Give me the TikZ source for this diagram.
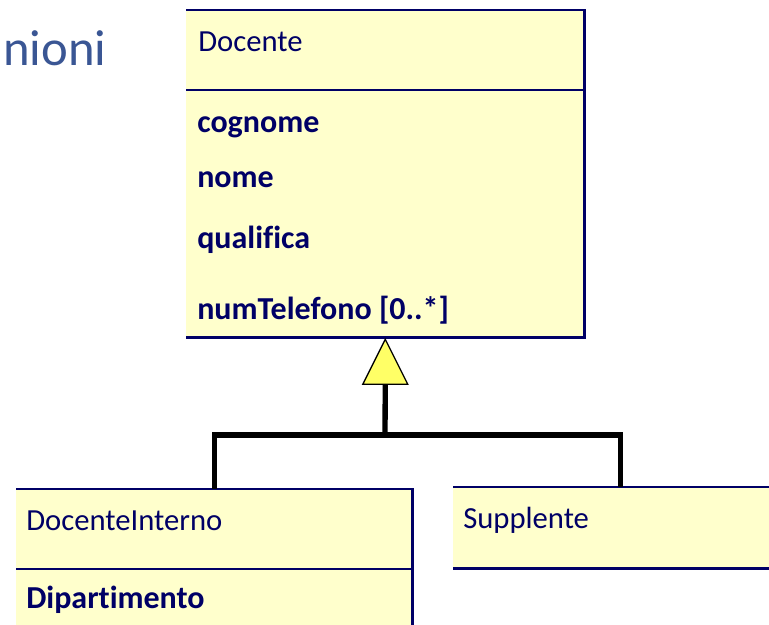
\documentclass[tikz,border=0pt]{standalone}
\usepackage{fontspec}
\setmainfont{Carlito}[Ligatures={NoCommon}]
\usepackage{xcolor}
\usepackage{tikz}
\usetikzlibrary{shapes.geometric}
\definecolor{umlnavy}{RGB}{0,0,102}
\definecolor{umlfill}{RGB}{255,255,204}
\definecolor{gentri}{RGB}{255,255,102}
\definecolor{slideblue}{RGB}{58,86,148}

\begin{document}
\begin{tikzpicture}[x=0.75pt,y=-0.75pt,
  classbox/.style={fill=umlfill,draw=none,inner sep=0pt,anchor=north west},
  boxline/.style={draw=umlnavy,line width=2pt},
  classname/.style={anchor=base west,inner sep=0pt,text=umlnavy,font=\fontsize{23}{28}\selectfont},
  attr/.style={classname,font=\fontsize{24}{28}\selectfont\bfseries},
  genline/.style={draw=black,line width=4pt}]
\useasboundingbox (0,0) rectangle (769,625);
% slide title (cut)
\node[anchor=base west,inner sep=0pt,text=slideblue,font=\fontsize{38}{44}\selectfont] (ttl) at (3,65) {nioni};
% Docente
\node[classbox,minimum width=298.5pt,minimum height=245.25pt] (docente) at (186,10) {};
\draw[boxline] (docente.north west) -- (docente.north east) -- (docente.south east) -- (docente.south west);
\draw[boxline] (186,90) -- (584,90);
\node[classname] (docname) at (198,51) {Docente};
\node[attr] (cognome) at (197,132) {cognome};
\node[attr] (nome) at (197,187) {nome};
\node[attr] (qualifica) at (197,248) {qualifica};
\node[attr] (numtel) at (197,319) {numTelefono [0..*]};
% DocenteInterno
\node[classbox,minimum width=297pt,minimum height=120pt] (interno) at (16,489) {};
\draw[boxline] (interno.north west) -- (interno.north east) -- (interno.south east);
\draw[boxline] (16,569) -- (412,569);
\node[classname] (intname) at (26,530) {DocenteInterno};
\node[attr] (dipart) at (26,608) {Dipartimento};
% Supplente
\node[classbox,minimum width=250.5pt,minimum height=60.75pt] (suppl) at (453,487) {};
\draw[boxline] (suppl.north west) -- (suppl.north east);
\draw[boxline] (suppl.south west) -- (suppl.south east);
\node[classname] (supname) at (463,528) {Supplente};
% generalization
\node[isosceles triangle,shape border rotate=90,isosceles triangle stretches,
  minimum width=33.75pt,minimum height=33.75pt,inner sep=0pt,
  draw=black,line width=1pt,fill=gentri,anchor=apex] (gen) at (docente.south) {};
\coordinate (split) at (385,435);
\draw[genline] (gen.lower side) -- (split);
\draw[genline] (split) -| (interno.north);
\draw[genline] (split) -| (suppl.north);
\end{tikzpicture}
\end{document}
